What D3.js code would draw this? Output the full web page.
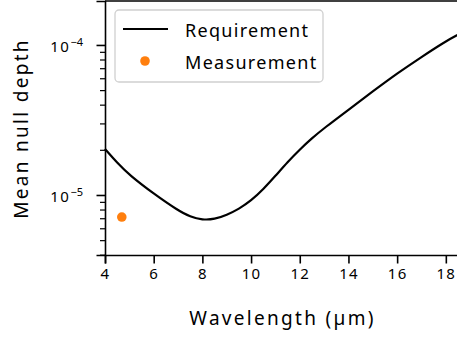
<!DOCTYPE html>
<html>
<head>
<meta charset="utf-8">
<script src="https://cdn.jsdelivr.net/npm/d3@7"></script>
<style>
  body { margin: 0; background: #fff; }
  svg { display: block; }
  text { font-family: "Noto Sans", "Open Sans", sans-serif; fill: #000; }
</style>
</head>
<body>
<svg id="chart"></svg>
<script>
// requirement curve (wavelength in µm, mean null depth)
const reqWavelength = [4.0, 4.5, 5.0, 6.0, 7.0, 7.5, 8.0, 8.5, 9.0, 9.5, 10.0, 10.5, 11.0, 11.5, 12.0, 12.5, 13.0, 14.0, 15.0, 16.0, 17.0, 18.0, 18.5];
const reqDepth = [2.03e-5, 1.64e-5, 1.36e-5, 1.02e-5, 7.89e-6, 7.16e-6, 6.82e-6, 6.89e-6, 7.36e-6, 8.07e-6, 9.16e-6, 1.09e-5, 1.34e-5, 1.66e-5, 2.01e-5, 2.39e-5, 2.79e-5, 3.70e-5, 4.90e-5, 6.46e-5, 8.32e-5, 1.06e-4, 1.17e-4];

// single measurement point
const measWavelength = [4.69];
const measDepth = [7.13e-6];

const xTicks = [4, 6, 8, 10, 12, 14, 16, 18];
const yMajorTicks = [1e-5, 1e-4];
const yMinorTicks = [4e-6, 5e-6, 6e-6, 7e-6, 8e-6, 9e-6, 2e-5, 3e-5, 4e-5, 5e-5, 6e-5, 7e-5, 8e-5, 9e-5];
const seriesNames = ['Requirement', 'Measurement'];

const width = 457, height = 339;
const margin = {top: 1, right: -1, bottom: 84, left: 105};
const iw = width - margin.left - margin.right;
const ih = height - margin.top - margin.bottom;

const svg = d3.select('#chart').attr('width', width).attr('height', height);
const g = svg.append('g').attr('transform', `translate(${margin.left},${margin.top})`);

const x = d3.scaleLinear().domain([4, 18.5]).range([0, iw]);
const y = d3.scaleLog().domain([Math.pow(10, -5.4), Math.pow(10, -3.707)]).range([ih, 0]);

// requirement line
const req = reqWavelength.map((w, i) => ({w: w, v: reqDepth[i]}));
const line = d3.line()
    .x(d => x(d.w))
    .y(d => y(d.v))
    .curve(d3.curveBasis);

g.append('path')
    .datum(req)
    .attr('d', line)
    .attr('fill', 'none')
    .attr('stroke', '#000')
    .attr('stroke-width', 2.2);

// measurement
g.selectAll('circle.meas')
    .data(measWavelength.map((w, i) => ({w: w, v: measDepth[i]})))
    .enter().append('circle')
    .attr('class', 'meas')
    .attr('cx', d => x(d.w))
    .attr('cy', d => y(d.v))
    .attr('r', 4.8)
    .attr('fill', '#ff7f0e');

// x axis
const xAxis = g.append('g')
    .attr('transform', `translate(0,${ih})`)
    .call(d3.axisBottom(x).tickValues(xTicks).tickSize(8.5).tickPadding(5).tickFormat(d3.format('d')));
xAxis.select('.domain').attr('stroke-width', 1.6);
xAxis.selectAll('.tick line').attr('stroke-width', 1.6);
xAxis.selectAll('text').style('font-size', '15px').style('letter-spacing', '1.2px');

// y axis, major ticks with power-of-ten labels
const yAxis = g.append('g')
    .call(d3.axisLeft(y).tickValues(yMajorTicks).tickSize(8.5).tickFormat(''));
yAxis.select('.domain').attr('stroke-width', 1.6);
yAxis.selectAll('.tick line').attr('stroke-width', 1.6);
yAxis.selectAll('.tick').each(function (d) {
    const t = d3.select(this).select('text')
        .attr('x', -22)
        .attr('dy', '0.45em')
        .attr('text-anchor', 'end')
        .style('font-size', '15px');
    t.append('tspan').style('letter-spacing', '1.5px').text('10');
    t.append('tspan')
        .attr('dy', '-0.55em')
        .style('font-size', '11px')
        .text('\u2212' + Math.round(-Math.log10(d)));
});

// minor ticks
g.append('g')
    .call(d3.axisLeft(y).tickValues(yMinorTicks).tickSize(5).tickFormat(''))
    .call(a => a.select('.domain').remove())
    .selectAll('.tick line').attr('stroke-width', 1.2);

// top spine
g.append('line')
    .attr('x1', 0).attr('x2', iw)
    .attr('y1', 0).attr('y2', 0)
    .attr('stroke', '#000').attr('stroke-width', 1.6);

// axis labels
svg.append('text')
    .attr('x', 282.5)
    .attr('y', 325)
    .attr('text-anchor', 'middle')
    .style('font-size', '19px')
    .style('letter-spacing', '2.3px')
    .text('Wavelength (\u00b5m)');

svg.append('text')
    .attr('transform', `translate(28,128.5) rotate(-90)`)
    .attr('text-anchor', 'middle')
    .style('font-size', '19px')
    .style('letter-spacing', '2.3px')
    .text('Mean null depth');

// legend
const legend = svg.append('g').attr('transform', 'translate(115,10)');
legend.append('rect')
    .attr('width', 208).attr('height', 72)
    .attr('rx', 4)
    .attr('fill', '#fff').attr('fill-opacity', 0.8)
    .attr('stroke', '#d0d0d0').attr('stroke-width', 1.3);

legend.append('line')
    .attr('x1', 8).attr('x2', 53)
    .attr('y1', 19).attr('y2', 19)
    .attr('stroke', '#000').attr('stroke-width', 2.2);
legend.append('circle')
    .attr('cx', 30).attr('cy', 51).attr('r', 4.8)
    .attr('fill', '#ff7f0e');

legend.selectAll('text.lab')
    .data(seriesNames)
    .enter().append('text')
    .attr('class', 'lab')
    .attr('x', 70)
    .attr('y', (d, i) => 27.3 + i * 32)
    .style('font-size', '18px')
    .style('letter-spacing', '1.3px')
    .text(d => d);
</script>
</body>
</html>
